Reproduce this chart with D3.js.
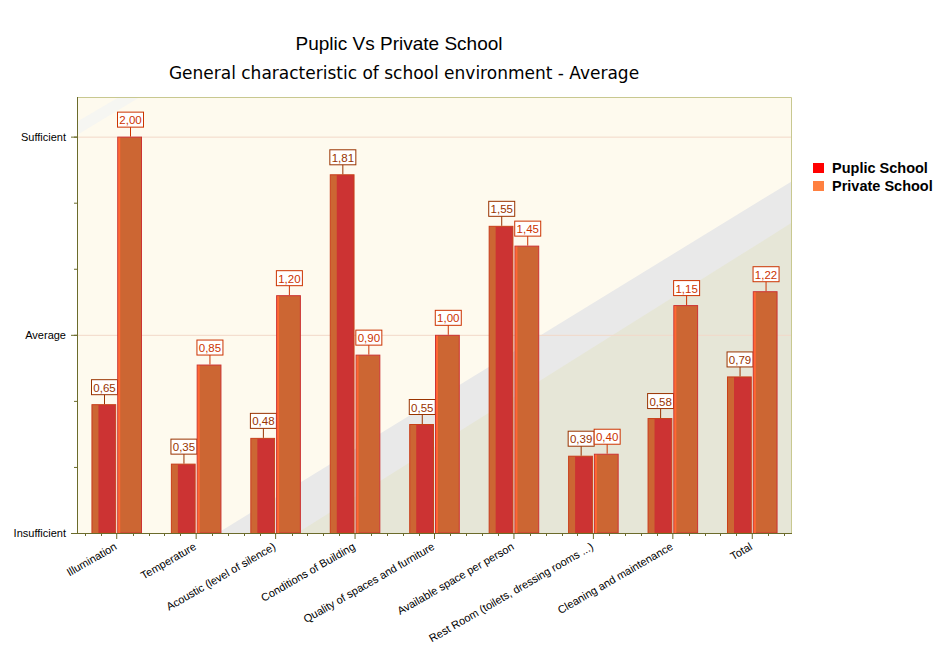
<!DOCTYPE html>
<html>
<head>
<meta charset="utf-8">
<script src="https://cdn.jsdelivr.net/npm/d3@7"></script>
<style>
  body { margin: 0; background: #fff; }
  text { font-family: "Liberation Sans", Arial, sans-serif; }
</style>
</head>
<body>
<svg id="chart" width="943" height="652"></svg>
<script>
// school environment chart - averages, comma decimals like the original

var categories = ["Illumination", "Temperature", "Acoustic (level of silence)", "Conditions of Building",
  "Quality of spaces and furniture", "Available space per person",
  "Rest Room (toilets, dressing rooms ...)", "Cleaning and maintenance", "Total"];
var seriesNames = ["Puplic School", "Private School"];
var publicValues  = [0.65, 0.35, 0.48, 1.81, 0.55, 1.55, 0.39, 0.58, 0.79];
var privateValues = [2.00, 0.85, 1.20, 0.90, 1.00, 1.45, 0.40, 1.15, 1.22];
var yTickValues = [0, 1, 2];
var yTickLabels = ["Insufficient", "Average", "Sufficient"];

var margin = {top: 97, right: 151, bottom: 119, left: 77};
var width = 943 - margin.left - margin.right;
var height = 652 - margin.top - margin.bottom;

var svg = d3.select("#chart");
var g = svg.append("g").attr("transform", "translate(" + margin.left + "," + margin.top + ")");

var x = d3.scaleBand().domain(categories).range([0, width]).padding(0);
var xs = d3.scaleBand().domain(seriesNames).range([0, x.bandwidth()]).paddingInner(0.04).paddingOuter(0.56);
var y = d3.scaleLinear().domain([0, 2.2]).range([height, 0]);

var fmt = function(v) { return d3.format(".2f")(v).replace(".", ","); };

// background and the diagonal bands
g.append("rect").attr("width", width).attr("height", height).attr("fill", "#fefaee");
var bandPts = function(pts) { return pts.map(function(p) { return [p[0] * width, p[1] * height]; }).join(" "); };
g.append("polygon").attr("points", bandPts([[0, 0.057], [0.059, 0], [0.088, 0], [0, 0.087]])).attr("fill", "#f6f6f2");
g.append("polygon").attr("points", bandPts([[0.197, 1], [1, 0.193], [1, 1]])).attr("fill", "#e9e9e9");
g.append("polygon").attr("points", bandPts([[0.308, 1], [1, 0.288], [1, 1]])).attr("fill", "#e6e6d7");

// grid
g.selectAll(".grid").data(yTickValues.slice(1)).enter().append("line")
  .attr("x1", 0).attr("x2", width)
  .attr("y1", function(d) { return y(d) + 0.5; }).attr("y2", function(d) { return y(d) + 0.5; })
  .attr("stroke", "#f2d8c8");

// plot frame top / right
g.append("path").attr("d", "M0,0.5H" + (width - 0.5) + "V" + height)
  .attr("fill", "none").attr("stroke", "#c8c890");

// bars
var rows = categories.map(function(c, i) {
  return {cat: c, vals: [{s: seriesNames[0], v: publicValues[i]}, {s: seriesNames[1], v: privateValues[i]}]};
});

var catG = g.selectAll(".cat").data(rows).enter().append("g")
  .attr("transform", function(d) { return "translate(" + x(d.cat) + ",0)"; });

var bar = catG.selectAll(".bar").data(function(d) { return d.vals; }).enter().append("g");

bar.append("rect")
  .attr("x", function(d) { return xs(d.s) + 0.5; })
  .attr("y", function(d) { return y(d.v) + 0.5; })
  .attr("width", xs.bandwidth() - 1)
  .attr("height", function(d) { return height - y(d.v) - 0.5; })
  .attr("fill", function(d, i) { return i == 0 ? "#cc3333" : "#cc6633"; })
  .attr("stroke", function(d, i) { return i == 0 ? "#c84018" : "#cc3333"; });

bar.append("rect")
  .attr("x", function(d) { return xs(d.s) + 1; })
  .attr("y", function(d) { return y(d.v) + 1; })
  .attr("width", function(d, i) { return i == 0 ? 6 : 2; })
  .attr("height", function(d) { return height - y(d.v) - 1; })
  .attr("fill", function(d, i) { return i == 0 ? "#cc6633" : "#ff6633"; });

// value marks
var lab = bar.append("g")
  .attr("transform", function(d) { return "translate(" + Math.round(xs(d.s) + xs.bandwidth() / 2) + "," + y(d.v) + ")"; });
lab.append("line").attr("x1", 0.5).attr("x2", 0.5).attr("y1", 0).attr("y2", -10)
  .attr("stroke", function(d, i) { return i == 0 ? "#993300" : "#cc3300"; });
lab.append("rect").attr("x", -12.5).attr("y", -24.5).attr("width", 26).attr("height", 15)
  .attr("fill", "#fff")
  .attr("stroke", function(d, i) { return i == 0 ? "#993300" : "#cc3300"; });
lab.append("text").attr("x", 0.5).attr("y", -12.5)
  .attr("text-anchor", "middle").style("font-size", "11.5px")
  .attr("fill", function(d, i) { return i == 0 ? "#993300" : "#cc3300"; })
  .text(function(d) { return fmt(d.v); });

// y axis
var yMinor = d3.range(0, 7).map(function(k) { return k / 3; });
g.append("g").call(d3.axisLeft(y).tickValues(yMinor).tickSize(3).tickFormat(""))
  .call(function(a) { a.select(".domain").remove(); a.selectAll("line").attr("stroke", "#6b6b2b"); });
var yAx = g.append("g").call(d3.axisLeft(y).tickValues(yTickValues).tickSize(6).tickPadding(5)
  .tickFormat(function(d, i) { return yTickLabels[i]; }));
yAx.select(".domain").attr("stroke", "#6b6b2b").attr("d", "M0.5,0V" + height);
yAx.selectAll("line").attr("stroke", "#6b6b2b");
yAx.selectAll("text").style("font-size", "11px").attr("fill", "#000");

// x axis
var xc = function(c) { return x(c) + x.bandwidth() / 2; };
var xMinor = [];
categories.forEach(function(c) {
  [-2, -1, 1, 2].forEach(function(k) { xMinor.push(xc(c) + k * x.bandwidth() / 5); });
});
var xBottom = g.append("g").attr("transform", "translate(0," + height + ")");
xBottom.selectAll(".minor").data(xMinor).enter().append("line")
  .attr("x1", function(d) { return Math.round(d) + 0.5; }).attr("x2", function(d) { return Math.round(d) + 0.5; })
  .attr("y1", 0).attr("y2", 3).attr("stroke", "#6b6b2b");
var xAx = xBottom.append("g").call(d3.axisBottom(x).tickSize(6).tickFormat(""));
xAx.select(".domain").attr("stroke", "#6b6b2b").attr("d", "M0,0.5H" + width);
xAx.selectAll("line").attr("stroke", "#6b6b2b");

xBottom.selectAll(".xl").data(categories).enter().append("text")
  .attr("transform", function(d) { return "translate(" + (xc(d) - 3) + ",9) rotate(-30)"; })
  .attr("text-anchor", "end").attr("dy", "0.71em")
  .style("font-size", "11px").attr("fill", "#000")
  .text(function(d) { return d; });

// titles
svg.append("text").attr("x", 399).attr("y", 50).attr("text-anchor", "middle")
  .style("font-size", "19px").text("Puplic Vs Private School");
svg.append("text").attr("x", 404).attr("y", 79).attr("text-anchor", "middle")
  .style("font-family", "'DejaVu Sans', sans-serif").style("font-size", "17px")
  .text("General characteristic of school environment - Average");

// legend
var legendColors = ["#ff0000", "#ff8040"];
var leg = svg.selectAll(".leg").data(seriesNames).enter().append("g")
  .attr("transform", function(d, i) { return "translate(813," + (163 + i * 18) + ")"; });
leg.append("rect").attr("width", 11).attr("height", 10).attr("fill", function(d, i) { return legendColors[i]; });
leg.append("text").attr("x", 19).attr("y", 10).style("font-size", "14.5px").style("font-weight", "bold")
  .text(function(d) { return d; });
</script>
</body>
</html>
